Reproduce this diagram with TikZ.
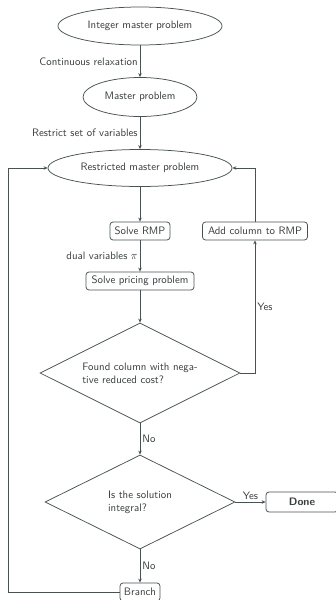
\documentclass[tikz,border=0pt]{standalone}
\usetikzlibrary{shapes.geometric,arrows.meta}
\definecolor{linecol}{RGB}{72,82,82}
\definecolor{textcol}{RGB}{55,60,60}
\tikzset{every picture/.style={line width=0.75pt}}
\tikzset{
  ellnode/.style={draw=linecol,ellipse,inner sep=0pt,text=textcol},
  boxnode/.style={draw=linecol,rounded corners=3pt,minimum height=18pt,inner sep=2pt,text=textcol},
  decnode/.style={draw=linecol,diamond,aspect=2,inner sep=0pt,text=textcol,align=left},
  lbl/.style={text=textcol,inner sep=2pt},
  flow/.style={draw=linecol,-{Stealth[length=4pt,width=3.5pt]}}
}

\begin{document}
\begin{tikzpicture}[x=1pt,y=1pt,yscale=-1,xscale=1,font=\sffamily\fontsize{10.8}{13}\selectfont]
    \useasboundingbox (0,0) rectangle (335,600);
    %Shape: Ellipse [id:intmp]
    \node [ellnode,minimum width=164pt,minimum height=38pt] (intmp) at (140,26) {Integer master problem};
    %Shape: Ellipse [id:mp]
    \node [ellnode,minimum width=114pt,minimum height=39pt] (mp) at (140,97) {Master problem};
    %Shape: Ellipse [id:rmp]
    \node [ellnode,minimum width=184pt,minimum height=37pt] (rmp) at (140,168) {Restricted master problem};
    %Rounded Rect [id:solvermp]
    \node [boxnode,minimum width=60pt] (solvermp) at (140,231) {Solve RMP};
    %Rounded Rect [id:addcol]
    \node [boxnode,minimum width=105pt] (addcol) at (255,231) {Add column to RMP};
    %Rounded Rect [id:pricing]
    \node [boxnode,minimum width=108pt] (pricing) at (140,281) {Solve pricing problem};
    %Shape: Diamond [id:negcost]
    \node [decnode,minimum width=200pt,minimum height=100pt] (negcost) at (140,373) {Found column with nega-\\tive reduced cost?};
    %Shape: Diamond [id:integral]
    \node [decnode,minimum width=190pt,minimum height=94pt] (integral) at (140,502) {Is the solution\\integral?};
    %Rounded Rect [id:done]
    \node [boxnode,minimum width=72pt,minimum height=20pt] (done) at (302,502) {\textbf{Done}};
    %Rounded Rect [id:branch]
    \node [boxnode,minimum width=40pt] (branch) at (140,592) {Branch};
    %Corner points of the loops
    \coordinate (addtop) at (255,168);
    \coordinate (negright) at (255,373);
    \coordinate (brleft) at (8,592);
    \coordinate (rmpleft) at (8,168);

    % Straight Lines
    \draw [flow] (intmp) -- node [lbl,left] {Continuous relaxation} (mp);
    \draw [flow] (mp) -- node [lbl,left] {Restrict set of variables} (rmp);
    \draw [flow] (rmp) -- (solvermp);
    \draw [flow] (solvermp) -- node [lbl,left] {dual variables $\pi$} (pricing);
    \draw [flow] (pricing) -- (negcost);
    \draw [flow] (negcost) -- node [lbl,right] {No} (integral);
    \draw [flow] (integral) -- node [lbl,above] {Yes} (done);
    \draw [flow] (integral) -- node [lbl,right] {No} (branch);
    % Loops
    \draw [flow] (negcost.east) -- (negright) -- node [lbl,right] {Yes} (addcol.south);
    \draw [flow] (addcol.north) -- (addtop) -- (rmp.east);
    \draw [flow] (branch.west) -- (brleft) -- (rmpleft) -- (rmp.west);
\end{tikzpicture}
\end{document}
